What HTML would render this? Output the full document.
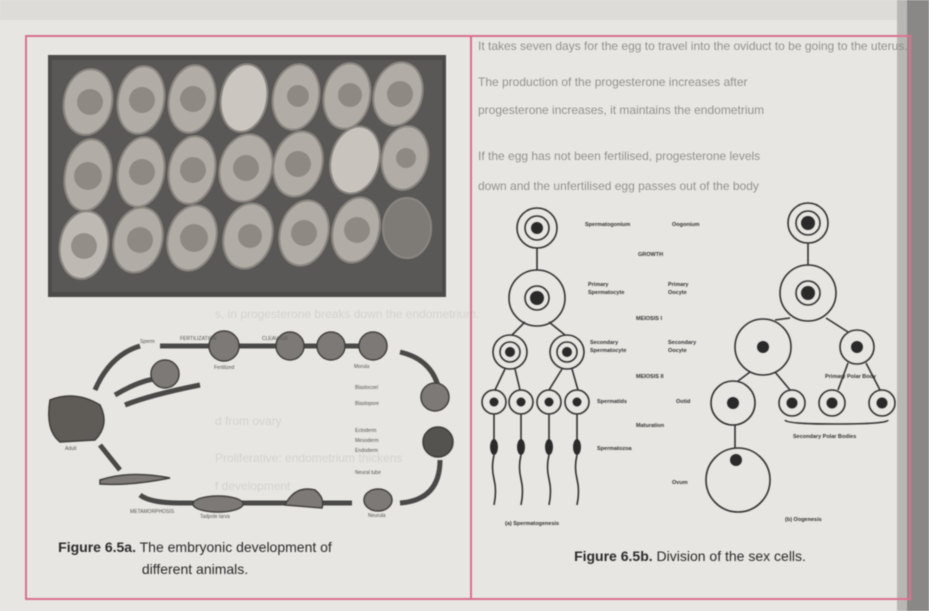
<!DOCTYPE html>
<html><head><meta charset="utf-8"><style>
html,body{margin:0;padding:0;background:#e9e7e4;}
svg{display:block;font-family:"Liberation Sans",sans-serif;}
</style></head><body>
<svg width="929" height="611" viewBox="0 0 929 611" xmlns="http://www.w3.org/2000/svg">
<defs><filter id="b" x="0" y="0" width="100%" height="100%"><feGaussianBlur stdDeviation="0.6"/></filter></defs>
<rect width="929" height="611" fill="#e8e6e2"/>
<g filter="url(#b)">
<rect x="0" y="0" width="929" height="20" fill="#dedcd8"/>
<rect x="905" y="0" width="24" height="611" fill="#8a8886"/>
<rect x="897" y="0" width="10" height="611" fill="#b9b7b4"/>
<g fill="#7f7c78" font-size="12" opacity="0.8">
<text x="478" y="50">It takes seven days for the egg to travel into the oviduct to be going to the uterus.</text>
<text x="478" y="86">The production of the progesterone increases after</text>
<text x="478" y="114">progesterone increases, it maintains the endometrium</text>
<text x="478" y="160">If the egg has not been fertilised, progesterone levels</text>
<text x="478" y="190">down and the unfertilised egg passes out of the body</text>
</g>
<g fill="#c2bfbb" font-size="12" opacity="0.5">
<text x="215" y="318">s, in progesterone breaks down the endometrium.</text>
<text x="215" y="425">d from ovary</text>
<text x="215" y="462">Proliferative: endometrium thickens</text>
<text x="215" y="490">f development</text>
</g>
<rect x="26" y="36" width="884" height="563" fill="none" stroke="#d9708f" stroke-width="2"/>
<line x1="471" y1="36" x2="471" y2="599" stroke="#d9708f" stroke-width="2"/>
<rect x="48" y="55" width="398" height="242" fill="#4e4c4a"/>
<rect x="52" y="60" width="390" height="232" fill="#5a5856"/>
<g fill="#b2aca6" stroke="#8a8580" stroke-width="2">
<ellipse cx="88" cy="102" rx="24" ry="33" transform="rotate(10 88 102)"/>
<ellipse cx="141" cy="100" rx="23" ry="34" transform="rotate(10 141 100)"/>
<ellipse cx="192" cy="99" rx="23" ry="34" transform="rotate(10 192 99)"/>
<ellipse cx="244" cy="98" rx="23" ry="34" transform="rotate(10 244 98)" fill="#cbc6c0"/>
<ellipse cx="296" cy="97" rx="23" ry="33" transform="rotate(10 296 97)"/>
<ellipse cx="347" cy="96" rx="23" ry="33" transform="rotate(10 347 96)"/>
<ellipse cx="398" cy="94" rx="24" ry="32" transform="rotate(15 398 94)"/>
<ellipse cx="88" cy="175" rx="23" ry="36" transform="rotate(10 88 175)"/>
<ellipse cx="141" cy="172" rx="23" ry="35" transform="rotate(10 141 172)"/>
<ellipse cx="192" cy="170" rx="23" ry="34" transform="rotate(10 192 170)"/>
<ellipse cx="246" cy="168" rx="26" ry="34" transform="rotate(15 246 168)"/>
<ellipse cx="298" cy="164" rx="24" ry="33" transform="rotate(15 298 164)"/>
<ellipse cx="355" cy="160" rx="24" ry="34" transform="rotate(15 355 160)" fill="#c8c3bd"/>
<ellipse cx="405" cy="158" rx="23" ry="32" transform="rotate(10 405 158)"/>
<ellipse cx="84" cy="245" rx="24" ry="34" transform="rotate(10 84 245)" fill="#bfb9b3"/>
<ellipse cx="138" cy="240" rx="24" ry="33" transform="rotate(15 138 240)"/>
<ellipse cx="192" cy="238" rx="24" ry="33" transform="rotate(15 192 238)"/>
<ellipse cx="248" cy="236" rx="24" ry="33" transform="rotate(15 248 236)"/>
<ellipse cx="304" cy="233" rx="24" ry="33" transform="rotate(15 304 233)"/>
<ellipse cx="356" cy="230" rx="23" ry="33" transform="rotate(15 356 230)"/>
<ellipse cx="407" cy="228" rx="24" ry="30" fill="#7e7a76"/>
</g>
<g fill="#77726d" opacity="0.6">
<circle cx="90" cy="102" r="13"/><circle cx="142" cy="100" r="13"/><circle cx="193" cy="99" r="13"/><circle cx="298" cy="96" r="11"/><circle cx="350" cy="95" r="12"/><circle cx="400" cy="94" r="13"/>
<circle cx="88" cy="176" r="14"/><circle cx="142" cy="172" r="13"/><circle cx="193" cy="170" r="13"/><circle cx="246" cy="168" r="13"/><circle cx="298" cy="164" r="13"/><circle cx="406" cy="158" r="10"/>
<circle cx="84" cy="246" r="13"/><circle cx="140" cy="240" r="13"/><circle cx="194" cy="238" r="14"/><circle cx="250" cy="236" r="12"/><circle cx="304" cy="233" r="13"/><circle cx="357" cy="230" r="13"/>
</g>
<g fill="none" stroke="#4a4846" stroke-width="5">
<path d="M160 346 L372 346"/>
<path d="M400 352 Q435 360 440 395"/>
<path d="M440 460 Q440 500 400 503"/>
<path d="M352 503 L180 503 Q150 503 140 495"/>
<path d="M120 470 L100 445"/>
<path d="M95 390 Q110 355 140 346"/>
<path d="M115 395 Q140 380 160 378"/>
<path d="M125 405 Q150 395 200 385"/>
</g>
<g fill="#7d7976" stroke="#3f3d3b" stroke-width="1.5">
<circle cx="224" cy="346" r="15"/><circle cx="290" cy="346" r="14"/><circle cx="331" cy="346" r="14"/><circle cx="373" cy="346" r="14"/>
<circle cx="165" cy="374" r="14"/>
<circle cx="435" cy="397" r="14"/><circle cx="438" cy="442" r="15" fill="#55524f"/>
<ellipse cx="378" cy="500" rx="14" ry="11"/>
<path d="M285 505 Q295 485 315 490 Q325 498 322 508 Z"/>
<ellipse cx="218" cy="504" rx="25" ry="8"/>
<path d="M100 480 Q130 470 170 478 Q130 486 100 484 Z"/>
<path d="M50 400 Q75 390 100 405 Q110 425 95 440 L60 442 Q45 430 50 400 Z" fill="#5e5b58"/>
</g>
<g fill="#555" font-size="5">
<text x="140" y="343">Sperm</text><text x="180" y="340">FERTILIZATION</text><text x="262" y="340">CLEAVAGE</text>
<text x="214" y="369">Fertilized</text><text x="354" y="368">Morula</text>
<text x="355" y="389">Blastocoel</text><text x="355" y="405">Blastopore</text>
<text x="355" y="432">Ectoderm</text><text x="355" y="442">Mesoderm</text><text x="355" y="452">Endoderm</text><text x="355" y="474">Neural tube</text>
<text x="368" y="517">Neurula</text><text x="200" y="518">Tadpole larva</text><text x="130" y="513">METAMORPHOSIS</text><text x="65" y="450">Adult</text>
</g>
<g fill="#2a2a2a" font-size="14" text-anchor="middle">
<text x="195" y="552"><tspan font-weight="bold">Figure 6.5a.</tspan> The embryonic development of</text>
<text x="195" y="574">different animals.</text>
<text x="690" y="561"><tspan font-weight="bold">Figure 6.5b.</tspan> Division of the sex cells.</text>
</g>
<g fill="none" stroke="#333" stroke-width="1.6">
<line x1="537" y1="248" x2="537" y2="270"/>
<line x1="525" y1="322" x2="512" y2="335"/><line x1="549" y1="322" x2="565" y2="335"/>
<line x1="505" y1="369" x2="495" y2="390"/><line x1="515" y1="369" x2="520" y2="390"/>
<line x1="562" y1="369" x2="549" y2="390"/><line x1="572" y1="369" x2="578" y2="390"/>
<circle cx="537" cy="228" r="20"/><circle cx="537" cy="228" r="12"/>
<circle cx="537" cy="298" r="28"/><circle cx="537" cy="298" r="12"/>
<circle cx="510" cy="352" r="17"/><circle cx="510" cy="352" r="10"/>
<circle cx="567" cy="352" r="17"/><circle cx="567" cy="352" r="10"/>
<circle cx="494" cy="402" r="12"/><circle cx="521" cy="402" r="12"/><circle cx="549" cy="402" r="12"/><circle cx="577" cy="402" r="12"/>
<path d="M494 414 V440 M521 414 V440 M549 414 V440 M577 414 V440"/>
<path d="M494 455 q-3 12 0 24 t0 26 M521 455 q-3 12 0 24 t0 26 M549 455 q-3 12 0 24 t0 26 M577 455 q-3 12 0 24 t0 26"/>
<line x1="808" y1="243" x2="808" y2="265"/>
<line x1="790" y1="318" x2="775" y2="320"/><line x1="826" y1="318" x2="848" y2="332"/>
<line x1="750" y1="372" x2="738" y2="381"/><line x1="775" y1="372" x2="790" y2="390"/>
<line x1="848" y1="363" x2="838" y2="390"/><line x1="866" y1="363" x2="880" y2="390"/>
<line x1="735" y1="425" x2="735" y2="448"/>
<circle cx="808" cy="223" r="20"/><circle cx="808" cy="223" r="12"/>
<circle cx="808" cy="293" r="28"/><circle cx="808" cy="293" r="12"/>
<circle cx="763" cy="347" r="28"/><circle cx="857" cy="347" r="17"/>
<circle cx="733" cy="403" r="22"/><circle cx="792" cy="403" r="13"/><circle cx="832" cy="403" r="13"/><circle cx="882" cy="403" r="13"/>
<circle cx="738" cy="480" r="32"/>
<path d="M785 420 Q786 424 835 424 Q888 424 888 420"/>
</g>
<g fill="#2a2a2a">
<circle cx="537" cy="228" r="6"/><circle cx="537" cy="298" r="7"/><circle cx="510" cy="352" r="5"/><circle cx="567" cy="352" r="5"/>
<circle cx="494" cy="402" r="4.5"/><circle cx="521" cy="402" r="4.5"/><circle cx="549" cy="402" r="4.5"/><circle cx="577" cy="402" r="4.5"/>
<ellipse cx="494" cy="447" rx="4" ry="8"/><ellipse cx="521" cy="447" rx="4" ry="8"/><ellipse cx="549" cy="447" rx="4" ry="8"/><ellipse cx="577" cy="447" rx="4" ry="8"/>
<circle cx="808" cy="223" r="7"/><circle cx="808" cy="293" r="7"/><circle cx="763" cy="347" r="6"/><circle cx="857" cy="347" r="6"/>
<circle cx="733" cy="403" r="6"/><circle cx="792" cy="403" r="5.5"/><circle cx="832" cy="403" r="5.5"/><circle cx="882" cy="403" r="5.5"/><circle cx="736" cy="460" r="6"/>
</g>
<g fill="#333" font-size="5.5" font-weight="bold">
<text x="585" y="226">Spermatogonium</text><text x="672" y="226">Oogonium</text>
<text x="638" y="256">GROWTH</text>
<text x="588" y="286">Primary</text><text x="588" y="294">Spermatocyte</text><text x="668" y="286">Primary</text><text x="668" y="294">Oocyte</text>
<text x="636" y="320">MEIOSIS I</text>
<text x="590" y="344">Secondary</text><text x="590" y="352">Spermatocyte</text><text x="668" y="344">Secondary</text><text x="668" y="352">Oocyte</text>
<text x="636" y="378">MEIOSIS II</text>
<text x="597" y="403">Spermatids</text><text x="676" y="403">Ootid</text>
<text x="636" y="427">Maturation</text>
<text x="597" y="450">Spermatozoa</text><text x="672" y="484">Ovum</text>
<text x="825" y="378">Primary Polar Body</text><text x="793" y="438">Secondary Polar Bodies</text>
<text x="505" y="525">(a)  Spermatogenesis</text><text x="785" y="521">(b)  Oogenesis</text>
</g>
</g>
</svg>
</body></html>
